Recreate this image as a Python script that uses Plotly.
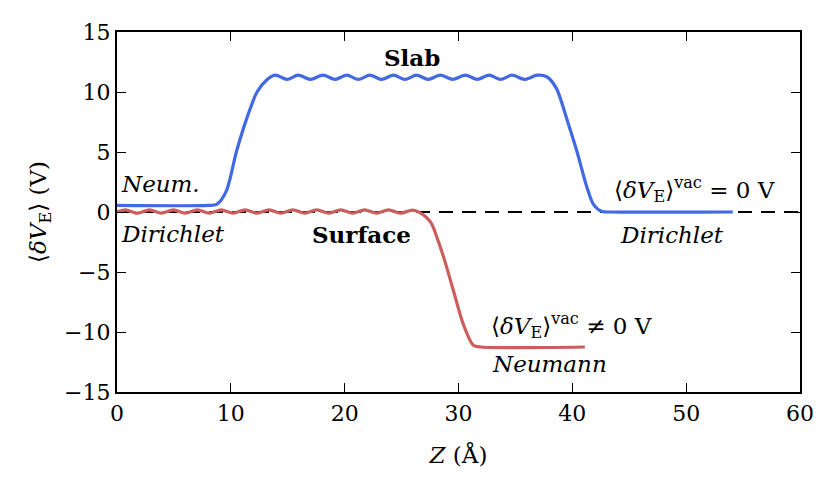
import plotly.graph_objects as go

# Slab (blue) potential profile
slab_z = [0.0, 8.0, 8.76, 9.6, 10.5, 11.4, 12.3, 13.15, 13.9, 14.95, 15.9, 17.0, 18.1,
          19.15, 20.2, 21.2, 22.2, 23.25, 24.3, 25.3, 26.3, 27.35, 28.4, 29.5, 30.6,
          31.65, 32.7, 33.7, 34.7, 35.8, 36.9, 37.75, 38.6, 39.5, 40.4, 41.3, 41.85,
          42.6, 43.5, 54.1]
slab_v = [0.55, 0.55, 0.64, 1.74, 5.06, 7.8, 10.0, 11.0, 11.4, 11.05, 11.4, 11.05, 11.4,
          11.05, 11.4, 11.05, 11.4, 11.05, 11.4, 11.05, 11.4, 11.05, 11.4, 11.05, 11.4,
          11.05, 11.4, 11.05, 11.4, 11.05, 11.4, 11.27, 10.3, 7.8, 5.06, 2.0, 0.64,
          0.05, 0.0, 0.0]

# Surface (red) potential profile
surf_z = [0.0, 0.75, 1.8, 2.85, 3.9, 4.95, 6.0, 7.05, 8.1, 9.15, 10.2, 11.25, 12.3,
          13.35, 14.4, 15.45, 16.5, 17.55, 18.6, 19.65, 20.7, 21.75, 22.8, 23.85, 24.9,
          25.95, 26.6, 27.2, 27.65, 28.1, 28.7, 29.55, 30.4, 31.3, 32.0, 41.1]
surf_v = [0.0, 0.18, -0.1, 0.18, -0.1, 0.18, -0.1, 0.18, -0.1, 0.18, -0.1, 0.18, -0.1,
          0.18, -0.1, 0.18, -0.1, 0.18, -0.1, 0.18, -0.1, 0.18, -0.1, 0.18, -0.1,
          0.15, -0.05, -0.47, -1.0, -2.1, -3.78, -6.54, -9.3, -11.1, -11.25, -11.25]

ref_z = [0, 60]
ref_v = [0, 0]

x_ticks = [0, 10, 20, 30, 40, 50, 60]
y_ticks = [-15, -10, -5, 0, 5, 10, 15]

FONT = "DejaVu Serif"
FS = 22
FA = 23

fig = go.Figure()
fig.add_trace(go.Scatter(x=ref_z, y=ref_v, mode="lines",
                         line=dict(color="black", width=2.2, dash="14px,9px"),
                         showlegend=False, hoverinfo="skip"))
fig.add_trace(go.Scatter(x=slab_z, y=slab_v, mode="lines",
                         line=dict(color="#4169E1", width=3.2, shape="spline", smoothing=0.8),
                         showlegend=False))
fig.add_trace(go.Scatter(x=surf_z, y=surf_v, mode="lines",
                         line=dict(color="#CD5C5C", width=3.2, shape="spline", smoothing=0.8),
                         showlegend=False))

def ann(x, y, text, xanchor="left", size=FA):
    fig.add_annotation(x=x, y=y, text=text, showarrow=False, xanchor=xanchor,
                       yanchor="middle", font=dict(family=FONT, size=size, color="black"))

ann(25.9, 12.85, "<b>Slab</b>", "center")
ann(21.5, -1.9, "<b>Surface</b>", "center")
ann(0.2, 2.3, "<i>Neum.</i>")
ann(0.2, -1.85, "<i>Dirichlet</i>")
ann(43.5, 1.9, "⟨<i>δV</i><sub>E</sub>⟩<sup>vac</sup> = 0 V")
ann(44.0, -1.9, "<i>Dirichlet</i>")
ann(32.7, -9.45, "⟨<i>δV</i><sub>E</sub>⟩<sup>vac</sup> ≠ 0 V")
ann(32.8, -12.7, "<i>Neumann</i>")

axis_common = dict(showline=True, linecolor="black", linewidth=2.2, mirror="ticks",
                   ticks="inside", ticklen=9, tickwidth=1.2, tickcolor="black",
                   showgrid=False, zeroline=False,
                   tickfont=dict(family=FONT, size=FS, color="black"))

fig.update_xaxes(range=[0, 60], tickvals=x_ticks, ticktext=[str(v) for v in x_ticks],
                 title=dict(text="<i>Z</i> (Å)", font=dict(family=FONT, size=FA), standoff=22),
                 **axis_common)
fig.update_yaxes(range=[-15, 15], tickvals=y_ticks,
                 ticktext=[("−" + str(-v)) if v < 0 else str(v) for v in y_ticks],
                 title=dict(text="⟨<i>δV</i><sub>E</sub>⟩ (V)", font=dict(family=FONT, size=FA), standoff=11),
                 **axis_common)

# the page adds an 8 px body margin, so the margins are offset by it
fig.update_layout(width=832, height=488, margin=dict(l=109, r=40, t=22, b=104),
                  plot_bgcolor="white", paper_bgcolor="white",
                  font=dict(family=FONT, size=FS, color="black"))

fig.write_html("out.html")
